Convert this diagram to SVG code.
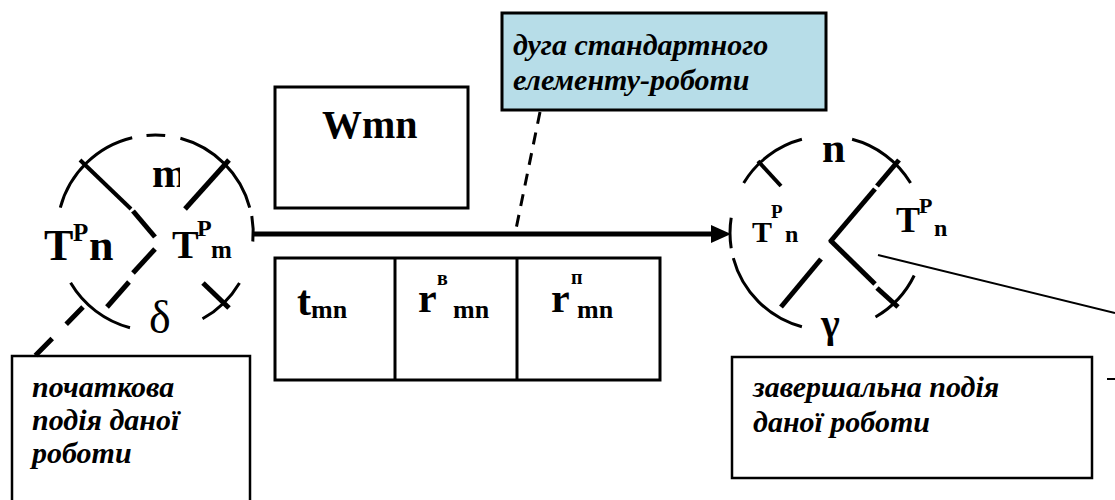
<svg xmlns="http://www.w3.org/2000/svg" width="1115" height="500" viewBox="0 0 1115 500">
  <style>
    .arc { fill: none; stroke: #000; stroke-width: 3; }
    .bar { fill: none; stroke: #000; stroke-width: 5; stroke-linecap: butt; }
    .box { fill: #fff; stroke: #000; stroke-width: 3; }
    .note { fill: #fff; stroke: #000; stroke-width: 2.5; }
    .sym { font-weight: bold; fill: #000; }
    .greek { fill: #000; }
    .lbl { font-weight: bold; font-style: italic; font-size: 30px; fill: #000; }
  </style>
  <defs>
    <clipPath id="clip-m">
      <rect x="140" y="150" width="40" height="50"/>
    </clipPath>
  </defs>

  <g font-family="Liberation Serif, Times New Roman, serif">
  <!-- start event m -->
  <g id="event-m">
    <path class="arc" d="M 60.3 207.6 A 98 98 0 0 1 132.2 137.7"/>
    <path class="arc" d="M 146.5 135.4 A 98 98 0 0 1 165.2 135.5"/>
    <path class="arc" d="M 180.4 138.3 A 98 98 0 0 1 249.7 207.6"/>
    <path class="arc" d="M 251.8 216.0 A 98 98 0 0 1 252.8 241.5"/>
    <path class="arc" d="M 239.5 282.9 A 98 98 0 0 1 202.5 318.7"/>
    <path class="arc" d="M 130.0 327.8 A 98 98 0 0 1 70.6 282.8"/>
    <line class="bar" x1="80" y1="160" x2="131" y2="209" style="stroke-width:4"/>
    <line class="bar" x1="133" y1="211" x2="155" y2="237"/>
    <line class="bar" x1="229" y1="160" x2="185" y2="209"/>
    <line class="bar" x1="155" y1="249" x2="133" y2="273"/>
    <line class="bar" x1="129" y1="282" x2="107" y2="307"/>
    <line class="bar" x1="203" y1="283" x2="229" y2="308"/>
    <text class="sym" x="152" y="187" font-size="42" clip-path="url(#clip-m)">m</text>
    <text class="sym" x="44" y="260" font-size="44">T</text>
    <text class="sym" x="73" y="241" font-size="25">P</text>
    <text class="sym" x="89" y="260" font-size="44">n</text>
    <text class="sym" x="172" y="258" font-size="40">T</text>
    <text class="sym" x="197" y="236" font-size="24">P</text>
    <text class="sym" x="211" y="258" font-size="25">m</text>
    <text class="greek" x="149" y="333" font-size="46">δ</text>
  </g>

  <!-- end event n -->
  <g id="event-n">
    <path class="arc" d="M 743.7 183.0 A 97 97 0 0 1 801.9 139.3"/>
    <path class="arc" d="M 852.1 139.3 A 97 97 0 0 1 910.6 183.0"/>
    <path class="arc" d="M 914.2 275.5 A 97 97 0 0 1 875.5 317.0"/>
    <path class="arc" d="M 801.9 326.7 A 97 97 0 0 1 733.3 258.1"/>
    <path class="arc" d="M 731.2 248.2 A 97 97 0 0 1 731.2 217.8"/>
    <line class="bar" x1="758" y1="161" x2="781" y2="186" style="stroke-width:4"/>
    <line class="bar" x1="899" y1="160" x2="877" y2="186"/>
    <line class="bar" x1="875" y1="189" x2="830" y2="242"/>
    <line class="bar" x1="830" y1="240" x2="875" y2="284"/>
    <line class="bar" x1="877" y1="288" x2="898" y2="307"/>
    <line class="bar" x1="821" y1="259" x2="781" y2="307"/>
    <text class="sym" x="822" y="162" font-size="42">n</text>
    <text class="sym" x="752" y="242" font-size="30">T</text>
    <text class="sym" x="771" y="218" font-size="19">P</text>
    <text class="sym" x="785" y="242" font-size="24">n</text>
    <text class="sym" x="896" y="232" font-size="36">T</text>
    <text class="sym" x="919" y="213" font-size="22">P</text>
    <text class="sym" x="934" y="236" font-size="24">n</text>
    <text class="greek" x="821" y="337" font-size="40" font-weight="bold">γ</text>
  </g>

  <!-- work label -->
  <g id="work-wmn">
    <rect class="box" x="275" y="87" width="193" height="121"/>
    <text class="sym" x="322" y="138" font-size="40">Wmn</text>
  </g>

  <!-- work parameters -->
  <g id="work-params">
    <rect class="box" x="275" y="258" width="385" height="122"/>
    <line class="box" x1="395" y1="258" x2="395" y2="380"/>
    <line class="box" x1="517" y1="258" x2="517" y2="380"/>
    <text class="sym" x="297" y="315" font-size="42">t</text>
    <text class="sym" x="311" y="318" font-size="26">mn</text>
    <text class="sym" x="418" y="312" font-size="42">r</text>
    <text class="sym" x="437" y="285" font-size="20">в</text>
    <text class="sym" x="453" y="318" font-size="26">mn</text>
    <text class="sym" x="551" y="312" font-size="42">r</text>
    <text class="sym" x="571" y="284" font-size="20">п</text>
    <text class="sym" x="577" y="318" font-size="26">mn</text>
  </g>

  <!-- callouts -->
  <g id="note-arc">
    <rect x="502" y="13" width="324" height="97" fill="#B7DDE8" stroke="#000" stroke-width="3"/>
    <text class="lbl" x="513" y="55">дуга стандартного</text>
    <text class="lbl" x="513" y="90">елементу-роботи</text>
  </g>
  <g id="note-start">
    <rect class="note" x="12" y="356" width="238" height="160"/>
    <text class="lbl" x="32" y="397">початкова</text>
    <text class="lbl" x="32" y="430">подія даної</text>
    <text class="lbl" x="32" y="463">роботи</text>
  </g>
  <g id="note-end">
    <rect class="note" x="732" y="357" width="360" height="121"/>
    <text class="lbl" x="753" y="397">завершальна подія</text>
    <text class="lbl" x="753" y="432">даної роботи</text>
  </g>
  </g>

  <!-- connectors -->
  <g id="connectors">
    <line x1="252" y1="234" x2="714" y2="234" stroke="#000" stroke-width="5"/>
    <polygon points="711,225 731,234 711,243" fill="#000"/>
    <line x1="540" y1="112" x2="515" y2="234" stroke="#000" stroke-width="3" stroke-dasharray="12 9"/>
    <line x1="83" y1="307" x2="35" y2="356" stroke="#000" stroke-width="5" stroke-dasharray="24 20"/>
    <line x1="878" y1="255" x2="1115" y2="313" stroke="#000" stroke-width="2"/>
    <line x1="1107" y1="379" x2="1115" y2="379" stroke="#000" stroke-width="2"/>
  </g>
</svg>
